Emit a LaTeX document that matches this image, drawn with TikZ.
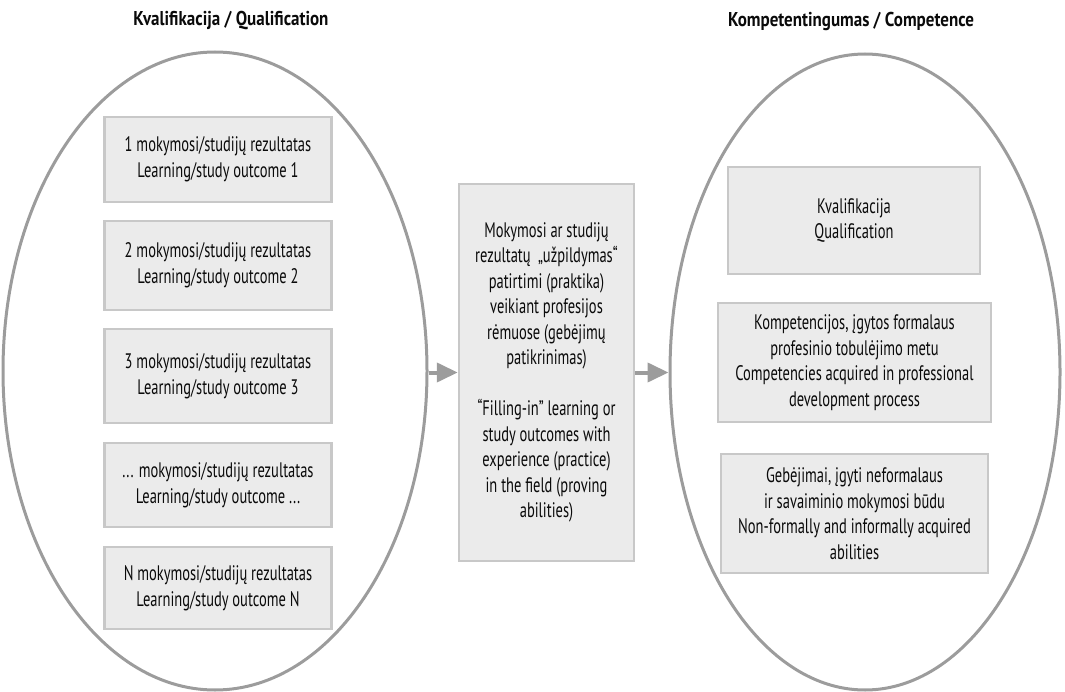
\documentclass[tikz,border=0pt]{standalone}
\usepackage{fontspec}
\setmainfont[FakeStretch=0.69]{PT Sans}
\newfontfamily\titlefont[FakeStretch=0.85]{PT Sans}
\usetikzlibrary{shapes.geometric,arrows.meta}
\definecolor{ringgray}{HTML}{9C9C9C}
\definecolor{boxborder}{HTML}{C8C8C8}
\definecolor{boxfill}{HTML}{EBEBEB}
\definecolor{txt}{HTML}{0A0A0A}
\tikzset{
  ring/.style={draw=ringgray, line width=3pt, ellipse, inner sep=0pt, fill=none},
  outbox/.style={draw=boxborder, fill=boxfill, line width=2.5pt, inner sep=0pt, align=center,
    text=txt, font=\fontsize{21}{25.5}\selectfont},
  title/.style={font=\titlefont\fontsize{20}{22}\selectfont\bfseries, text=txt, inner sep=0pt},
  flow/.style={draw=ringgray, line width=4pt, -{Triangle[length=21pt,width=19pt]}}
}
\begin{document}
\begin{tikzpicture}[x=1pt,y=-1pt]
\useasboundingbox (0,0) rectangle (1065,692);
% titles
\node[title] (t1) at (231,21) {Kvalifikacija / Qualification};
\node[title] (t2) at (851,21) {Kompetentingumas / Competence};
% ellipses
\node[ring, minimum width=424pt, minimum height=638pt] (L) at (215,371) {};
\node[ring, minimum width=390pt, minimum height=636pt] (R) at (865,372) {};
% left boxes
\node[outbox, minimum width=227pt, minimum height=85pt] (b1) at (218,159.5) {1 mokymosi/studijų rezultatas\\Learning/study outcome 1};
\node[outbox, minimum width=227pt, minimum height=89pt] (b2) at (218,265.5) {2 mokymosi/studijų rezultatas\\Learning/study outcome 2};
\node[outbox, minimum width=227pt, minimum height=94pt] (b3) at (218,376) {3 mokymosi/studijų rezultatas\\Learning/study outcome 3};
\node[outbox, minimum width=227pt, minimum height=84pt] (b4) at (218,485) {... mokymosi/studijų rezultatas\\Learning/study outcome ...};
\node[outbox, minimum width=227pt, minimum height=82pt] (b5) at (218,588) {N mokymosi/studijų rezultatas\\Learning/study outcome N};
% middle box
\node[outbox, minimum width=175pt, minimum height=377pt] (M) at (546.5,372.5) {Mokymosi ar studijų\\rezultatų \,„užpildymas“\\patirtimi (praktika)\\veikiant profesijos\\rėmuose (gebėjimų\\patikrinimas)\\[25.5pt]“Filling-in” learning or\\study outcomes with\\experience (practice)\\in the field (proving\\abilities)};
% right boxes
\node[outbox, minimum width=252pt, minimum height=107pt] (r1) at (854,220.5) {Kvalifikacija\\Qualification};
\node[outbox, minimum width=273pt, minimum height=119pt] (r2) at (854.5,362.5) {Kompetencijos, įgytos formalaus\\profesinio tobulėjimo metu\\Competencies acquired in professional\\development process};
\node[outbox, minimum width=267pt, minimum height=119pt] (r3) at (854.5,513.5) {Gebėjimai, įgyti neformalaus\\ir savaiminio mokymosi būdu\\Non-formally and informally acquired\\abilities};
% arrows
\draw[flow] (L.east |- M.west) -- (M.west);
\draw[flow] (M.east) -- (R.west |- M.east);
\end{tikzpicture}
\end{document}
